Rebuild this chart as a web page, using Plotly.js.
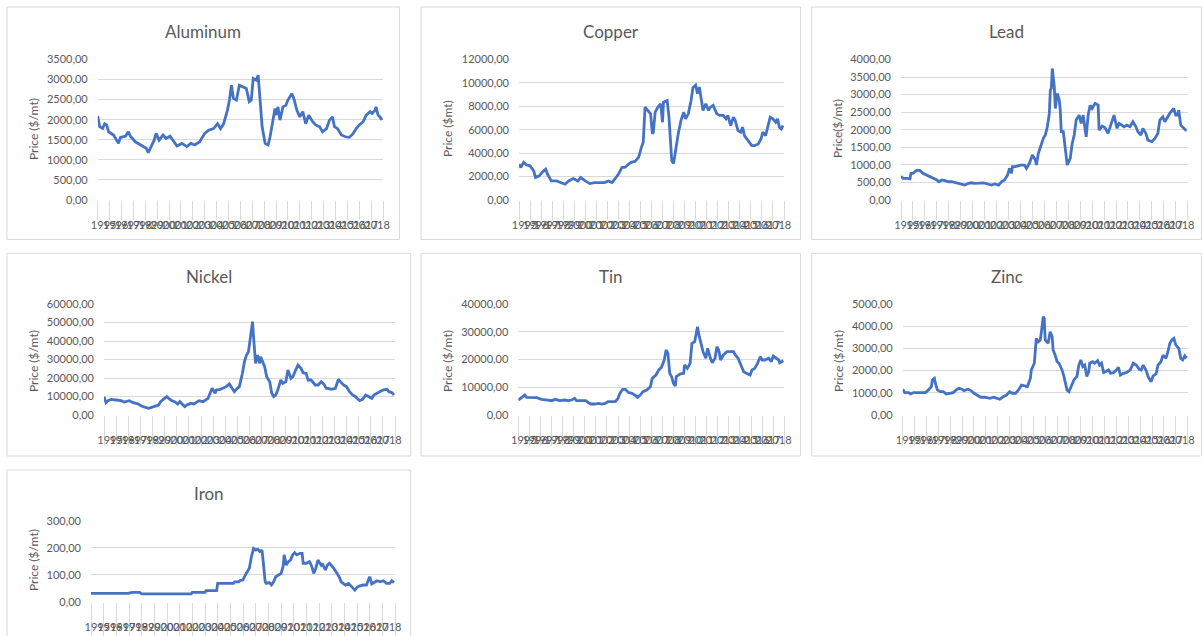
<!DOCTYPE html>
<html>
<head>
<meta charset="utf-8">
<script src="https://cdn.plot.ly/plotly-3.0.1.min.js"></script>
<style>html,body{margin:0;padding:0;background:#fff;}#chart{width:1202px;height:636px;}</style>
</head>
<body>
<div id="chart"></div>
<script>
// ---- data: month index (0 = Jan 1995) and price ----
const yearLabels = ['1995','1996','1997','1998','1999','2000','2001','2002','2003','2004','2005','2006',
                    '2007','2008','2009','2010','2011','2012','2013','2014','2015','2016','2017','2018'];

const aluminumMonth = [0,2,5,7,9,11,16,19,21,23,28,31,33,38,43,46,49,51,53,57,59,62,66,69,73,76,80,85,90,94,98,103,108,112,117,121,124,127,131,133,135,137,140,143,147,150,153,155,157,160,162,164,166,169,172,174,176,179,180,182,184,187,190,192,196,198,201,204,207,210,213,217,220,224,227,231,234,237,239,242,246,250,254,258,261,264,268,271,275,277,280,281,283,285,287];
const aluminumPrice = [2090,1825,1780,1900,1870,1700,1620,1490,1410,1560,1590,1700,1590,1450,1370,1330,1290,1180,1290,1490,1660,1490,1620,1535,1590,1490,1345,1410,1330,1410,1370,1450,1660,1740,1780,1900,1780,1890,2240,2490,2860,2530,2490,2860,2820,2780,2450,2490,3030,2990,3110,2570,1825,1410,1370,1575,1900,2280,2115,2320,1990,2320,2360,2490,2650,2530,2240,2070,2200,1900,2115,1950,1870,1825,1700,1780,1990,2070,1825,1780,1620,1575,1560,1660,1780,1870,1950,2115,2200,2155,2240,2320,2115,2070,1990];

const copperMonth = [0,2,5,8,12,16,18,22,25,29,31,35,41,46,50,54,59,64,67,72,77,82,88,93,97,101,104,108,112,115,119,122,126,130,133,135,137,140,143,145,146,148,151,154,156,157,161,163,165,166,168,170,173,176,179,181,184,187,189,192,194,196,198,200,203,206,208,211,215,218,222,225,227,230,233,235,238,241,243,245,249,253,256,260,263,265,268,271,273,276,279,281,283,285,287];
const copperPrice = [3065,2780,3210,3010,2920,2490,1920,2060,2350,2630,2200,1630,1630,1490,1350,1630,1830,1630,1920,1630,1400,1490,1490,1490,1630,1490,1775,2200,2780,2780,3065,3210,3290,3640,4500,4930,7930,7650,7360,5640,5790,7500,7930,8220,6640,8360,8500,7070,5070,3350,3120,4210,5640,6790,7500,6930,7360,8500,9590,9800,9080,9650,8790,7650,8220,7650,7930,8080,7360,7220,7220,6930,7220,6360,7070,6790,5930,5790,6220,5500,5070,4640,4640,4780,5210,5790,5500,6360,7070,6930,6640,6930,6220,6070,6360];

const leadMonth = [0,2,6,9,10,12,16,19,22,26,29,32,36,38,41,44,48,51,56,61,64,68,71,74,78,83,87,91,94,98,101,104,107,109,111,112,115,120,124,126,129,132,135,136,138,141,143,145,147,149,150,151,152,154,155,157,159,160,161,163,165,167,170,172,174,176,179,181,183,186,188,190,192,195,198,199,202,205,208,212,214,217,219,222,224,227,230,233,236,238,241,243,246,248,252,255,258,260,263,265,268,270,274,276,278,279,281,284,286,287];
const leadPrice = [680,615,615,600,760,760,850,835,760,710,665,635,570,520,570,550,520,520,490,455,425,475,490,475,475,490,455,425,455,425,520,570,710,900,760,950,950,995,995,900,1045,1280,1140,995,1330,1610,1755,1850,2085,2465,3130,3175,3745,3225,2605,3035,2845,2560,1945,1945,1515,995,1185,1610,1850,2275,2415,2180,2415,1800,2415,2700,2605,2750,2700,1990,2105,2055,1895,2275,2415,2040,2180,2130,2085,2130,2085,2230,2085,1945,1850,2040,1895,1705,1660,1755,1895,2275,2370,2230,2370,2465,2605,2415,2415,2560,2130,2040,1990,1990];

const nickelMonth = [0,2,4,7,12,17,20,25,29,34,37,40,44,47,50,54,56,59,62,64,67,70,73,75,78,80,82,86,89,91,94,98,101,103,105,107,110,111,115,118,121,124,126,129,132,134,137,139,141,143,145,147,148,150,152,154,155,157,159,161,164,166,168,170,172,175,177,180,182,185,187,189,192,195,197,200,202,205,209,212,215,217,220,222,225,229,232,234,237,240,243,246,249,253,256,259,262,265,267,270,273,276,280,282,285,287];
const nickelPrice = [9900,6670,7750,8470,8110,7750,7030,7750,6670,5950,4870,4140,3600,4140,4510,5410,7210,8470,9910,9010,7750,7210,5950,7210,5410,4510,5410,6310,5950,6670,7750,7210,8470,9010,11710,14420,11710,13510,13880,14420,15320,16760,14960,12610,14420,15320,22520,28830,32430,34240,42350,50460,42350,27930,32430,27930,31530,28830,26130,20720,18020,11710,9910,10810,13510,18920,17120,18020,24330,19820,20720,23420,27030,25230,22880,22520,18920,18920,16220,16220,18020,17120,14420,14420,13880,14420,19280,18020,16220,15320,12610,10810,9910,7750,8470,10810,9910,9010,10810,11710,12610,13510,13880,12610,12070,10810];

const tinMonth = [0,2,5,7,9,14,20,25,29,32,36,40,45,50,54,58,61,63,69,73,76,79,83,87,90,94,97,101,105,108,110,113,116,119,123,126,129,132,135,139,143,145,149,152,155,158,160,162,163,164,166,168,170,171,175,179,180,183,186,188,191,193,194,196,198,200,203,205,208,210,213,215,217,219,222,226,229,233,235,238,241,244,247,251,253,256,259,262,264,267,271,274,276,279,282,283,285,287];
const tinPrice = [5400,6000,6600,7200,6370,6370,6250,5650,5650,5400,5160,5650,5160,5400,5160,5400,6000,5160,5160,5160,4440,3960,3960,4200,3960,4200,4800,4800,4800,6000,7800,9250,9250,8170,7800,7200,6370,7200,8410,9010,10210,13210,14410,16210,17170,19820,23420,22220,17410,15010,13810,11410,10450,13810,14770,15010,18020,16810,18620,25820,26420,31230,31830,28220,25220,22820,20420,24020,20420,18860,20420,24620,23420,19820,21620,22820,22820,22820,21620,20420,18020,15610,15010,14410,16210,16810,18620,21020,19820,19820,20420,19220,21260,20420,19820,18860,19220,19580];

const zincMonth = [0,2,6,8,11,16,21,23,26,29,30,32,33,35,38,41,44,48,51,55,57,60,62,66,69,72,76,79,83,88,92,95,98,102,105,108,111,114,117,120,124,126,129,130,133,134,135,137,139,140,142,143,144,147,149,151,152,154,156,158,161,163,166,168,171,173,176,178,180,182,184,186,188,189,192,194,197,199,201,203,205,208,210,213,216,218,220,223,226,230,233,236,239,241,243,246,248,251,253,256,258,261,263,266,268,270,272,274,276,279,281,283,285,286,287];
const zincPrice = [1160,1010,1010,950,1010,1010,1010,1010,1130,1280,1580,1650,1430,1130,1050,1050,950,980,1010,1160,1200,1160,1100,1160,1100,980,860,800,800,750,800,750,710,830,900,1050,980,980,1130,1350,1280,1280,1650,2030,2330,3230,3450,3300,3380,3680,4430,4360,3380,3230,3750,3530,2930,2700,2400,2330,2030,1730,1130,1050,1350,1580,1730,2250,2480,2180,2250,1730,1950,2330,2400,2330,2450,2250,2330,1910,1950,2030,1880,1910,2030,2150,1800,1880,1910,2030,2330,2250,2060,2030,2250,2000,1730,1500,1760,1850,2250,2400,2700,2550,2850,3230,3380,3450,3150,3000,2550,2480,2660,2600,2660];

const ironMonth = [0,35,39,46,48,95,96,108,109,119,120,135,136,140,141,144,147,150,152,154,156,158,160,162,163,165,166,169,171,173,175,177,180,182,183,185,187,189,191,193,195,198,200,201,204,207,209,211,213,215,218,219,222,224,226,230,233,235,237,241,244,247,250,252,254,258,261,263,264,266,268,271,274,277,280,283,285,287];
const ironPrice = [31,31,35,35,29,29,35,35,41,41,68,68,74,74,78,81,105,124,167,198,192,195,186,192,155,74,68,71,62,74,93,99,105,130,174,136,149,155,174,182,174,180,180,143,143,149,133,105,124,155,136,143,118,136,143,124,105,93,74,62,68,56,43,53,58,62,62,83,93,66,71,78,74,78,68,68,78,71];

// ---- layout helpers (pixel geometry) ----
const W = 1202, H = 636;
const px = v => v / W;
const py = v => 1 - v / H;
const GRID = '#D9D9D9', TXT = '#595959', LINE = '#4472C4';
const FONT = 'Lato, "Open Sans", sans-serif';

const panels = [
  {title:'Aluminum', m:aluminumMonth, v:aluminumPrice, ymax:3500, dtick:500, ytitle:'Price ($/mt)',
   box:[7,7,399.5,239.5], plot:[97.7,59.5,383,200], titleY:31, ytX:33, ytY:129, tl:19},
  {title:'Copper', m:copperMonth, v:copperPrice, ymax:12000, dtick:2000, ytitle:'Price ($mt)',
   box:[421,7,800.5,239.5], plot:[519,59.5,784,200], titleY:31, ytX:447, ytY:129, tl:19},
  {title:'Lead', m:leadMonth, v:leadPrice, ymax:4000, dtick:500, ytitle:'Price($/mt)',
   box:[811.7,7,1201.5,239.5], plot:[901,59.5,1187.7,200], titleY:31, ytX:837, ytY:129, tl:19},
  {title:'Nickel', m:nickelMonth, v:nickelPrice, ymax:60000, dtick:10000, ytitle:'Price ($/mt)',
   box:[7,253.3,410.7,456], plot:[104,304,395,415], titleY:276.7, ytX:33, ytY:361, tl:30},
  {title:'Tin', m:tinMonth, v:tinPrice, ymax:40000, dtick:10000, ytitle:'Price ($/mt)',
   box:[421,253.3,800.5,456], plot:[518.3,304,784.3,415], titleY:276.7, ytX:447, ytY:361, tl:30},
  {title:'Zinc', m:zincMonth, v:zincPrice, ymax:5000, dtick:1000, ytitle:'Price ($/mt)',
   box:[811.7,253.3,1201.5,456], plot:[902.7,304,1187.7,415], titleY:276.7, ytX:838, ytY:361, tl:30},
  {title:'Iron', m:ironMonth, v:ironPrice, ymax:300, dtick:100, ytitle:'Price ($/mt)',
   box:[7,470,410.7,660], plot:[91,521,395,601.7], titleY:493, ytX:33, ytY:560, tl:40}
];

const labelPos = yearLabels.map((_, i) => 12 * i + 6);
const boundaryPos = yearLabels.map((_, i) => 12 * i).concat([12 * yearLabels.length]);
const XMAX = 12 * yearLabels.length;

const traces = [];
const layout = {
  width: W, height: H,
  margin: {l:0, r:0, t:0, b:0},
  paper_bgcolor: '#ffffff', plot_bgcolor: 'rgba(0,0,0,0)',
  showlegend: false, separators: ',.',
  font: {family: FONT, color: TXT},
  shapes: [], annotations: []
};

panels.forEach((p, i) => {
  const s = i === 0 ? '' : String(i + 1);
  const so = String(i + 8);
  const [bl, bt, br, bb] = p.box;
  const [pl, pt, pr, pb] = p.plot;
  layout.shapes.push({type:'rect', xref:'paper', yref:'paper', layer:'below',
    x0:px(bl), x1:px(br), y0:py(bb), y1:py(bt),
    line:{color:GRID, width:1}, fillcolor:'#ffffff'});
  // main x axis: category boundary tick marks only
  layout['xaxis' + s] = {
    domain:[px(pl), px(pr)], anchor:'y' + s, range:[0, XMAX],
    tickmode:'array', tickvals:boundaryPos, ticktext:boundaryPos.map(() => ''),
    ticks:'outside', ticklen:p.tl, tickcolor:GRID, tickwidth:1, showticklabels:false,
    showgrid:false, zeroline:false, showline:false, fixedrange:true
  };
  // overlay x axis: year labels centred between boundaries
  layout['xaxis' + so] = {
    overlaying:'x' + s, anchor:'y' + s, side:'bottom', range:[0, XMAX],
    tickmode:'array', tickvals:labelPos, ticktext:yearLabels, ticks:'',
    tickangle:0, tickfont:{family:FONT, size:11, color:TXT}, ticklabelstandoff:17,
    showgrid:false, zeroline:false, showline:false, fixedrange:true
  };
  layout['yaxis' + s] = {
    domain:[py(pb), py(pt)], anchor:'x' + s, range:[0, p.ymax],
    tick0:0, dtick:p.dtick, tickformat:'.2f', ticks:'', ticklabelstandoff:9,
    tickfont:{family:FONT, size:11, color:TXT},
    showgrid:true, gridcolor:GRID, gridwidth:1, zeroline:false, showline:false, fixedrange:true
  };
  traces.push({x:[], y:[], type:'scatter', mode:'lines', xaxis:'x' + so, yaxis:'y' + s,
    hoverinfo:'skip', showlegend:false});
  traces.push({x:p.m, y:p.v, type:'scatter', mode:'lines',
    line:{color:LINE, width:2.8}, xaxis:'x' + s, yaxis:'y' + s, hoverinfo:'skip'});
  layout.annotations.push({xref:'paper', yref:'paper', x:px((bl + br) / 2), y:py(p.titleY),
    text:p.title, showarrow:false, xanchor:'center', yanchor:'middle',
    font:{family:FONT, size:17, color:TXT}});
  layout.annotations.push({xref:'paper', yref:'paper', x:px(p.ytX), y:py(p.ytY),
    text:p.ytitle, showarrow:false, xanchor:'center', yanchor:'middle', textangle:-90,
    font:{family:FONT, size:12, color:TXT}});
});

Plotly.newPlot('chart', traces, layout, {displayModeBar:false, staticPlot:true});
</script>
</body>
</html>
